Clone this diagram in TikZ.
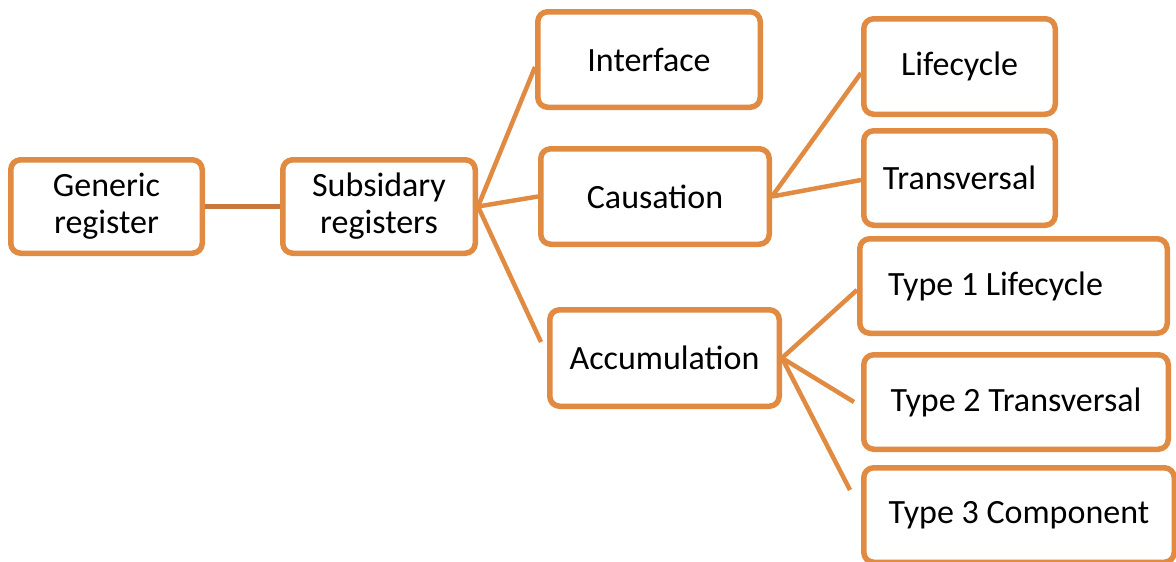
\documentclass[tikz,border=0pt]{standalone}
\usepackage{fontspec}
\setmainfont{Carlito}
\usetikzlibrary{calc}
\definecolor{boxorange}{RGB}{224,138,66}
\definecolor{linkbrown}{RGB}{200,120,60}
\begin{document}
\begin{tikzpicture}[x=1pt,y=-1pt,
  box/.style={draw=boxorange, line width=5.5pt, rounded corners=10pt,
    fill=white, align=center, inner sep=0pt, text=black,
    font=\fontsize{34}{37}\selectfont},
  link/.style={draw=boxorange, line width=4.5pt}]
\useasboundingbox (0,0) rectangle (1176,562);

% register boxes
\node[box, minimum width=191.5pt, minimum height=93.5pt] (gen) at (106.5,206.5) {Generic\\register};
\node[box, minimum width=192.5pt, minimum height=93.5pt] (sub) at (379,206.5) {Subsidary\\registers};

\node[box, minimum width=222.5pt, minimum height=95.5pt] (iface) at (649,59.5) {Interface};
\node[box, minimum width=228.5pt, minimum height=95.5pt] (caus) at (655,196.5) {Causation};
\node[box, minimum width=229.5pt, minimum height=96.5pt] (accu) at (664.5,358) {Accumulation};

\node[box, minimum width=191.5pt, minimum height=95.5pt] (life) at (959.5,66.5) {Lifecycle};
\node[box, minimum width=191.5pt, minimum height=94.5pt] (trans) at (959.5,178) {Transversal};

\node[box, minimum width=307.5pt, minimum height=94.5pt] (t1) at (1013.5,286) {Type 1 Lifecycle\hspace*{36pt}};
\node[box, minimum width=304.5pt, minimum height=94.5pt] (t2) at (1016,402) {Type 2 Transversal};
\node[box, minimum width=310.5pt, minimum height=94.5pt] (t3) at (1019,515) {Type 3 Component};

% free ends of the connectors that stop short of their boxes
\coordinate (accuEnd) at (541,342);
\coordinate (t2End) at (854,402);
\coordinate (t3End) at (850,490);

% connectors
\draw[link, draw=linkbrown] (gen.east) -- (sub.west);
\draw[link] (sub.east) -- ($(iface.west)+(0,7.5)$);
\draw[link] (sub.east) -- (caus.west);
\draw[link] (sub.east) -- (accuEnd);
\draw[link] (caus.east) -- ($(life.west)+(0,6.5)$);
\draw[link] (caus.east) -- ($(trans.west)+(0,2)$);
\draw[link] (accu.east) -- ($(t1.west)+(0,4)$);
\draw[link] (accu.east) -- (t2End);
\draw[link] (accu.east) -- (t3End);
\end{tikzpicture}
\end{document}
